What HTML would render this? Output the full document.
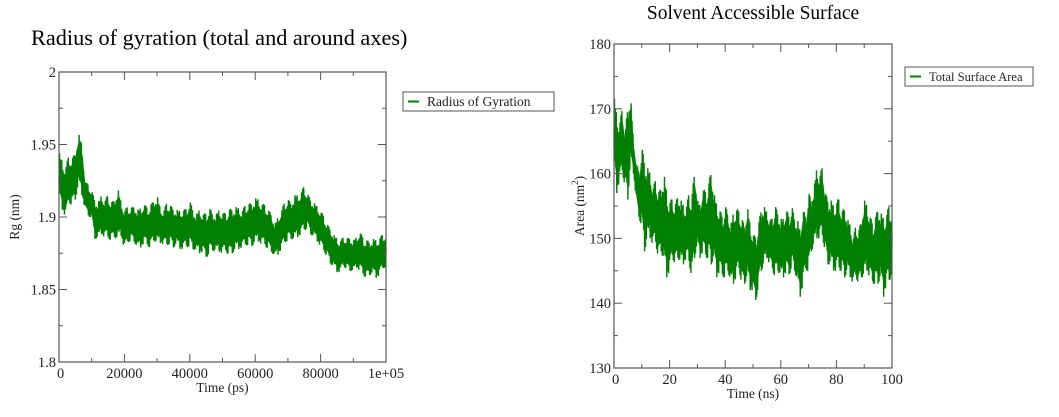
<!DOCTYPE html>
<html><head><meta charset="utf-8"><style>
html,body{margin:0;padding:0;background:#fff;}
svg{display:block;font-family:"Liberation Serif",serif;}
</style></head><body>
<svg id="s" width="1059" height="417" xmlns="http://www.w3.org/2000/svg">
<text x="31" y="45" font-size="22.3">Radius of gyration (total and around axes)</text>
<text x="753" y="19" font-size="19.5" text-anchor="middle">Solvent Accessible Surface</text>
<g id="g1"></g>
<g id="g2"></g>
</svg>
<script>
// Rg chart data (ps, envelope per 1000 ps)
const rgTimeMax = 100000;
const rgYTicks = [1.8,1.85,1.9,1.95,2];
const rgYTickLabels = ["1.8","1.85","1.9","1.95","2"];
const rgXTicks = [0,20000,40000,60000,80000,100000];
const rgXTickLabels = ["0","20000","40000","60000","80000","1e+05"];
const rgHigh = [1.945,1.938,1.935,1.942,1.94,1.945,1.958,1.95,1.925,1.922,1.918,1.912,1.91,1.915,1.912,1.915,1.91,1.912,1.92,1.91,1.905,1.907,1.906,1.908,1.905,1.906,1.91,1.906,1.908,1.912,1.915,1.906,1.905,1.91,1.908,1.906,1.905,1.904,1.906,1.905,1.911,1.905,1.902,1.905,1.903,1.902,1.906,1.903,1.902,1.905,1.904,1.902,1.905,1.906,1.907,1.906,1.905,1.908,1.909,1.91,1.913,1.912,1.91,1.908,1.905,1.902,1.895,1.9,1.905,1.91,1.912,1.91,1.915,1.915,1.918,1.921,1.916,1.912,1.91,1.907,1.905,1.9,1.895,1.892,1.888,1.885,1.884,1.886,1.885,1.886,1.884,1.886,1.891,1.885,1.884,1.883,1.885,1.884,1.886,1.888,1.888];
const rgLow = [1.915,1.905,1.9,1.91,1.908,1.912,1.922,1.915,1.905,1.9,1.9,1.885,1.885,1.888,1.886,1.885,1.884,1.886,1.884,1.887,1.878,1.882,1.884,1.883,1.878,1.879,1.882,1.88,1.879,1.884,1.881,1.882,1.881,1.88,1.882,1.879,1.881,1.878,1.878,1.879,1.88,1.878,1.876,1.875,1.876,1.871,1.876,1.877,1.876,1.876,1.875,1.876,1.874,1.875,1.877,1.878,1.879,1.88,1.881,1.88,1.882,1.883,1.881,1.88,1.878,1.876,1.872,1.874,1.878,1.882,1.884,1.885,1.884,1.886,1.888,1.89,1.893,1.888,1.886,1.883,1.88,1.876,1.873,1.868,1.865,1.862,1.862,1.866,1.864,1.863,1.862,1.865,1.863,1.86,1.858,1.86,1.861,1.858,1.86,1.864,1.866];
// SASA chart data (ns, envelope per 1 ns)
const saTimeMax = 100;
const saYTicks = [130,140,150,160,170,180];
const saYTickLabels = ["130","140","150","160","170","180"];
const saXTicks = [0,20,40,60,80,100];
const saXTickLabels = ["0","20","40","60","80","100"];
const saHigh = [172,169,168,170,166,171,172,165,162,160,164,162,161,160,158,159,157,158,160,157,156,156,155,157,156,155,155,157,156,161,156,155,158,157,158,161,157,155,155,153,155,154,152,154,155,154,153,152,155,152,151,150,152,155,155,154,153,153,155,154,153,153,155,153,155,153,153,151,155,153,157,156,158,161,160,161,157,156,156,155,156,156,154,155,153,152,150,152,151,153,156,155,154,152,153,155,154,153,154,155,154];
const saLow = [162,157,159,160,158,156,162,160,156,153,152,148,150,150,149,149,147,148,146,144,145,147,146,147,146,146,147,146,144,147,149,147,148,147,147,146,147,144,145,144,144,145,143,143,144,145,143,143,144,142,142,140,143,145,146,147,146,145,144,145,144,144,145,144,146,145,143,141,143,145,145,148,149,150,150,150,148,146,146,145,145,145,145,144,145,144,143,144,143,144,144,145,144,143,143,143,144,141,143,143,145];

const NS="http://www.w3.org/2000/svg";
function mk(tag, attrs, parent){const e=document.createElementNS(NS,tag);for(const k in attrs)e.setAttribute(k,attrs[k]);parent.appendChild(e);return e;}

function chart(g, o){
  const xs=v=>o.L+(v-o.x0)/(o.x1-o.x0)*(o.R-o.L);
  const ys=v=>o.B-(v-o.y0)/(o.y1-o.y0)*(o.B-o.T);
  const n=o.hi.length, step=(o.x1-o.x0)/(n-1);
  let top=[],bot=[];
  for(let i=0;i<n;i++){
    const m=(o.hi[i]+o.lo[i])/2, d=(o.hi[i]-o.lo[i])*0.3;
    top.push(xs(o.x0+i*step)+","+ys(m+d));
    bot.unshift(xs(o.x0+i*step)+","+ys(m-d));
  }
  const band=mk('polygon',{points:top.concat(bot).join(' '),fill:'#008000',stroke:'#008000','stroke-width':1},g);
  
  
  let pts=[];
  const sub=6;
  const amp=[0.55,1,0.7,0.9,0.6,1];
  for(let i=0;i<n-1;i++){
    for(let k=0;k<sub;k++){
      const f=k/sub;
      const h=o.hi[i]*(1-f)+o.hi[i+1]*f, l=o.lo[i]*(1-f)+o.lo[i+1]*f, m=(h+l)/2;
      const a=amp[(i+k)%6];
      const v=(k%2==0)?m-(m-l)*a:m+(h-m)*a;
      pts.push(xs(o.x0+(i+f)*step).toFixed(2)+","+ys(v).toFixed(2));
    }
  }
  pts.push(xs(o.x1)+","+ys((o.hi[n-1]+o.lo[n-1])/2));
  const line=mk('polyline',{points:pts.join(' '),fill:'none',stroke:'#008000','stroke-width':1.4},g);
  
  
  const fr=mk('rect',{x:o.L,y:o.T,width:o.R-o.L,height:o.B-o.T,fill:'none',stroke:'#555','stroke-width':1.2},g);
  
  
  o.yt.forEach((v,i)=>{
    const y=ys(v);
    mk('line',{x1:o.L,x2:o.L+8,y1:y,y2:y,stroke:'#555'},g);
    mk('line',{x1:o.R,x2:o.R-8,y1:y,y2:y,stroke:'#555'},g);
    if(i<o.yt.length-1){const ym=ys((v+o.yt[i+1])/2);mk('line',{x1:o.L,x2:o.L+4,y1:ym,y2:ym,stroke:'#555'},g);mk('line',{x1:o.R,x2:o.R-4,y1:ym,y2:ym,stroke:'#555'},g);}
    const t=mk('text',{x:o.L-3,y:y+5,'font-size':14.5,'text-anchor':'end',fill:'#222'},g);t.textContent=o.ytl[i];
    
    
  });
  o.xt.forEach((v,i)=>{
    const x=xs(v);
    mk('line',{x1:x,x2:x,y1:o.B,y2:o.B-8,stroke:'#555'},g);
    mk('line',{x1:x,x2:x,y1:o.T,y2:o.T+8,stroke:'#555'},g);
    if(i<o.xt.length-1){const xm=xs((v+o.xt[i+1])/2);mk('line',{x1:xm,x2:xm,y1:o.B,y2:o.B-4,stroke:'#555'},g);mk('line',{x1:xm,x2:xm,y1:o.T,y2:o.T+4,stroke:'#555'},g);}
    const t=mk('text',{x:x,y:o.B+16,'font-size':14.5,'text-anchor':i==0?'start':'middle',fill:'#222'},g);t.textContent=o.xtl[i];
    if(i==0)t.setAttribute('x',x-2);
    
    
  });
  const xt=mk('text',{x:(o.L+o.R)/2,y:o.B+30,'font-size':13.5,'text-anchor':'middle',fill:'#222'},g);xt.textContent=o.xlab;
  
  
  const yt=mk('text',{x:0,y:0,'font-size':13.5,'text-anchor':'middle',fill:'#222',transform:`translate(${o.ylx},${(o.T+o.B)/2}) rotate(-90)`},g);yt.innerHTML=o.ylab;
  
  
  const lg=mk('g',{},g);
  
  
  mk('rect',{x:o.lg[0],y:o.lg[1],width:o.lg[2],height:o.lg[3],fill:'#fff',stroke:'#555'},lg);
  const cy=o.lg[1]+o.lg[3]/2;
  mk('line',{x1:o.lg[0]+5,x2:o.lg[0]+16,y1:cy,y2:cy,stroke:'#008000','stroke-width':2},lg);
  const lt=mk('text',{x:o.lg[0]+24,y:cy+4.5,'font-size':o.lfs,fill:'#222'},lg);lt.textContent=o.leg;
  
  
}
chart(document.getElementById('g1'),{id:'rg',L:59,R:386,T:72,B:362,x0:0,x1:rgTimeMax,y0:1.8,y1:2,hi:rgHigh,lo:rgLow,yt:rgYTicks,ytl:rgYTickLabels,xt:rgXTicks,xtl:rgXTickLabels,xlab:'Time (ps)',ylab:'Rg (nm)',ylx:19,lg:[403,92,151,19],leg:'Radius of Gyration',lfs:13.5});
chart(document.getElementById('g2'),{id:'sasa',L:614,R:892,T:44,B:368,x0:0,x1:saTimeMax,y0:130,y1:180,hi:saHigh,lo:saLow,yt:saYTicks,ytl:saYTickLabels,xt:saXTicks,xtl:saXTickLabels,xlab:'Time (ns)',ylab:'Area (nm<tspan dy="-6" font-size="9">2</tspan><tspan dy="6">)</tspan>',ylx:584,lg:[905,67,128,19],leg:'Total Surface Area',lfs:12.5});
</script>
</body></html>
